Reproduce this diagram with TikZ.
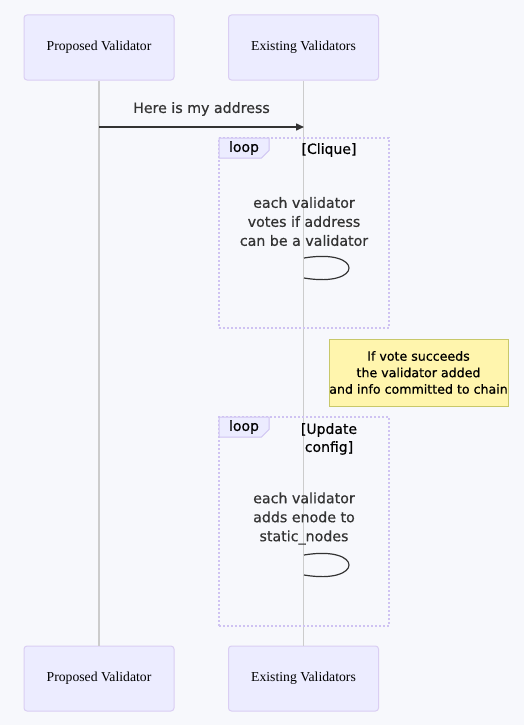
\documentclass[tikz,border=0pt]{standalone}
\usepackage{fontspec}
\setmainfont{Liberation Serif}
\newfontfamily\msgfont[FakeBold=0.6]{DejaVu Sans}
\usetikzlibrary{arrows.meta}
\definecolor{bgc}{HTML}{F7F8FC}
\definecolor{actfill}{HTML}{ECECFF}
\definecolor{actbord}{HTML}{DACEF3}
\definecolor{lifec}{HTML}{CCCCCC}
\definecolor{msgc}{HTML}{333333}
\definecolor{notefill}{HTML}{FFF5AD}
\definecolor{notebord}{HTML}{C8C86A}
\definecolor{loopbord}{HTML}{CFC3F2}
\tikzset{
  actor/.style={draw=actbord, fill=actfill, line width=1pt, rounded corners=3pt,
    minimum width=150pt, minimum height=65pt, inner sep=0pt,
    font=\fontsize{13.7}{16}\selectfont},
  life/.style={draw=lifec, line width=1.5pt},
  msgline/.style={draw=msgc, line width=1.5pt},
  msgtext/.style={text=msgc, align=center, inner sep=0pt,
    font=\msgfont\fontsize{14.2}{19}\selectfont},
  frame/.style={draw=loopbord, line width=1.6pt, dash pattern=on 2pt off 2pt,
    minimum width=170pt, inner sep=0pt},
  tab/.style={fill=actfill, draw=loopbord, line width=1pt},
  looplab/.style={text=black, inner sep=0pt, align=center,
    font=\msgfont\fontsize{14}{18}\selectfont},
  notebox/.style={draw=notebord, fill=notefill, line width=1pt,
    minimum width=179pt, minimum height=67pt, inner sep=0pt, align=center,
    text=black, font=\msgfont\fontsize{12.6}{16.5}\selectfont}
}
\begin{document}
\begin{tikzpicture}[x=1pt,y=-1pt]
\fill[bgc] (0,0) rectangle (524,725);
\useasboundingbox (0,0) rectangle (524,725);

% actors
\node[actor] (pt) at (99,47.5) {Proposed Validator};
\node[actor] (et) at (303.5,47.5) {Existing Validators};
\node[actor] (pb) at (99,678.5) {Proposed Validator};
\node[actor] (eb) at (303.5,678.5) {Existing Validators};

% lifelines
\draw[life] (pt.south) -- (pb.north);
\draw[life] (et.south) -- (eb.north);

% message
\coordinate (m1s) at (99,127);
\coordinate (m1e) at (304,127);
\node[msgtext] (m1t) at (201.5,109) {Here is my address};
\draw[msgline, -{Triangle[length=8pt,width=7pt]}] (m1s) -- (m1e);

% loop 1
\node[frame, minimum height=190pt] (f1) at (304,233) {};
\path[tab] (219,138) -- (269,138) -- (269,150.5) -- (261.5,158) -- (219,158) -- cycle;
\node[looplab] (f1l) at (244,148) {loop};
\node[looplab] (f1c) at (329,150) {[Clique]};
\node[msgtext] (s1t) at (304,221.5) {each validator\\votes if address\\can be a validator};
\coordinate (s1a) at (304,258);
\coordinate (s1b) at (304,278);
\draw[msgline, line width=1.2pt] (s1a) .. controls (364,248) and (364,288) .. (s1b);

% note
\node[notebox] (n1) at (418.5,372.5) {If vote succeeds\\the validator added\\and info committed to chain};

% loop 2
\node[frame, minimum height=209pt] (f2) at (304,521.5) {};
\path[tab] (219,417) -- (269,417) -- (269,429.5) -- (261.5,437) -- (219,437) -- cycle;
\node[looplab] (f2l) at (244,427) {loop};
\node[looplab] (f2c) at (329,439) {[Update\\config]};
\node[msgtext] (s2t) at (304,518.5) {each validator\\adds enode to\\static\_nodes};
\coordinate (s2a) at (304,555);
\coordinate (s2b) at (304,575);
\draw[msgline, line width=1.2pt] (s2a) .. controls (364,545) and (364,585) .. (s2b);
\end{tikzpicture}
\end{document}
